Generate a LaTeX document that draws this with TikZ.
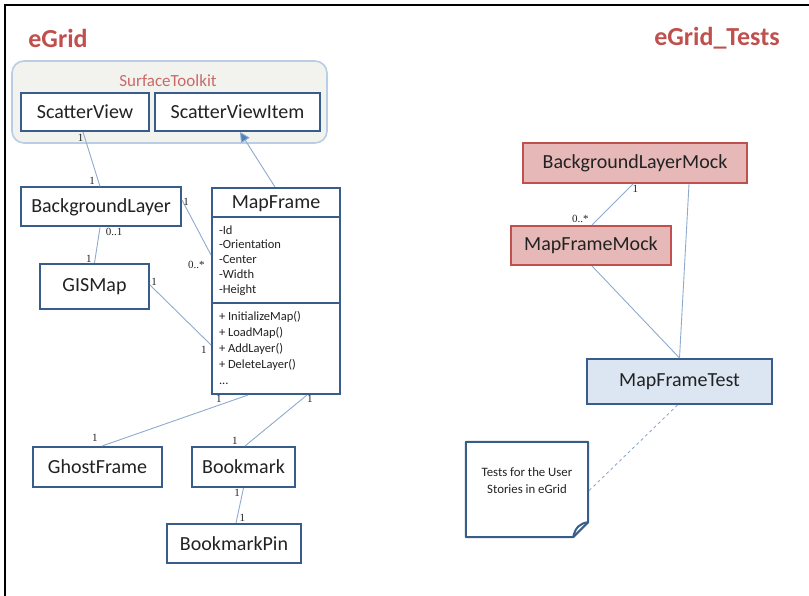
\documentclass[tikz,border=0pt]{standalone}
\usepackage{fontspec}
\setmainfont{Carlito}
\newfontfamily\multfont{Liberation Serif}
\usepackage{xcolor}
\usetikzlibrary{arrows.meta,positioning,calc,shapes.multipart}
\definecolor{ink}{HTML}{222222}
\definecolor{boxblue}{HTML}{385D8A}
\definecolor{linkblue}{HTML}{8FAACC}
\definecolor{tipblue}{HTML}{4F81BD}
\definecolor{titlered}{HTML}{C0504D}
\definecolor{pkgfill}{HTML}{F2F2EF}
\definecolor{pkgline}{HTML}{B9CDE5}
\definecolor{mockfill}{HTML}{E6B9B8}
\definecolor{testfill}{HTML}{DCE6F2}
\tikzset{
  every node/.style={text=ink},
  box/.style={draw=boxblue,line width=2pt,fill=white,inner sep=0pt,font=\fontsize{20}{24}\selectfont},
  cls/.style={box,minimum height=39pt},
  mock/.style={cls,fill=mockfill,draw=titlered},
  testcls/.style={cls,fill=testfill},
  pkg/.style={draw=pkgline,line width=1.6pt,fill=pkgfill,rounded corners=12pt},
  title/.style={font=\bfseries\fontsize{26}{30}\selectfont,text=titlered},
  assoc/.style={draw=linkblue,line width=0.9pt},
  realize/.style={assoc,-{Triangle[length=10pt,width=10pt,fill=tipblue]}},
  notelink/.style={assoc,dashed},
  mult/.style={font=\multfont\fontsize{11}{12}\selectfont,inner sep=1pt}
}

\begin{document}
\begin{tikzpicture}[x=1pt,y=-1pt]
  \useasboundingbox (0,0) rectangle (809,596);
  \draw[line width=2.5pt] (5,596) -- (5,5) -- (809,5);

  \node[title] (egrid) at (58,38) {eGrid};
  \node[title] (tests) at (717,38) {eGrid\_Tests};

  % SurfaceToolkit package
  \node[pkg,minimum width=315pt,minimum height=82pt] (toolkit) at (169.5,102) {};
  \node[font=\fontsize{17}{20}\selectfont,text=titlered!85] (toolkitlbl) at (168,81) {SurfaceToolkit};
  \node[cls,minimum width=128pt,minimum height=38pt] (sv) at (85,112) {ScatterView};
  \node[cls,minimum width=165pt,minimum height=38pt] (svi) at (237.5,112) {ScatterViewItem};

  % eGrid classes
  \node[cls,minimum width=160pt] (bgl) at (101,207) {BackgroundLayer};
  \node[cls,minimum width=109pt,minimum height=45pt] (gis) at (94.5,286.5) {GISMap};
  \node[cls,minimum width=129pt,minimum height=40pt] (gf) at (97.5,467) {GhostFrame};
  \node[cls,minimum width=103pt,minimum height=40pt] (bm) at (243.5,467) {Bookmark};
  \node[cls,minimum width=134pt] (bmp) at (234,543.5) {BookmarkPin};
  \node[box,rectangle split,rectangle split parts=3,rectangle split part align={center,left,left},
        align=left,inner xsep=7pt,inner ysep=4pt,minimum width=128pt,anchor=north,
        font=\fontsize{12.5}{14.7}\selectfont] (mf) at (276,187)
    {{\fontsize{20}{24}\selectfont\rule{0pt}{12pt}\raisebox{-4pt}{MapFrame}}
     \nodepart{two}\rule{0pt}{12pt}-Id\\-Orientation\\-Center\\-Width\\\rule[-5pt]{0pt}{0pt}-Height
     \nodepart{three}\rule{0pt}{12pt}+ InitializeMap()\\[1.3pt]+ LoadMap()\\[1.3pt]+ AddLayer()\\[1.3pt]+ DeleteLayer()\\[1.3pt]\rule[-5pt]{0pt}{0pt}...};

  % eGrid_Tests classes
  \node[mock,minimum width=224pt,minimum height=40pt] (blm) at (635,163) {BackgroundLayerMock};
  \node[mock,minimum width=160pt] (mfm) at (591,245.5) {MapFrameMock};
  \node[testcls,minimum width=185pt,minimum height=45pt] (mft) at (679.5,381.5) {MapFrameTest};
  \node[minimum width=122pt,minimum height=95pt,inner sep=0pt,align=center,
        font=\fontsize{12.8}{17}\selectfont] (note) at (527,489.5)
    {Tests for the User\\Stories in eGrid\\\mbox{}};
  \draw[boxblue,line width=2pt,line join=round]
    (note.north west) -- (note.north east) -- ([yshift=15]note.south east)
    -- ([xshift=-15]note.south east) -- (note.south west) -- cycle;
  \draw[boxblue,line width=2pt,line join=round]
    ([yshift=15]note.south east) .. controls ([xshift=-8,yshift=14]note.south east) and ([xshift=-13,yshift=10]note.south east) .. ([xshift=-15]note.south east);

  % associations
  \draw[assoc] ([xshift=-2]sv.south) -- node[mult,pos=0.1,left=0pt]{1} node[mult,pos=0.9,left=2pt]{1} ([xshift=-1]bgl.north);
  \draw[realize] ([xshift=-1]mf.north) -- ([xshift=2.5]svi.south);
  \draw[assoc] ([yshift=7]bgl.east) -- node[mult,pos=0,anchor=west,yshift=-2pt]{1} node[mult,pos=1,anchor=north east,xshift=-5pt,yshift=-5pt]{0..*} ([yshift=-68]mf.north west);
  \draw[assoc] ([xshift=-1]bgl.south) -- node[mult,pos=0.12,right=5pt]{0..1} node[mult,pos=0.88,left=2pt]{1} (gis.north);
  \draw[assoc] ([yshift=1.5]gis.east) -- node[mult,pos=0,anchor=west,yshift=3pt]{1} node[mult,pos=1,anchor=north east,xshift=-3pt]{1} ([yshift=-158]mf.north west);
  \draw[assoc] ([xshift=-28]mf.south) -- node[mult,pos=0.2,above=1pt]{1} node[mult,pos=1,above left=4pt]{1} ([xshift=4.5]gf.north);
  \draw[assoc] ([xshift=31]mf.south) -- node[mult,pos=0.07,right=3pt]{1} node[mult,pos=1,anchor=south east,xshift=-6pt]{1} ([xshift=1.5]bm.north);
  \draw[assoc] (bm.south) -- node[mult,pos=0.15,left=1pt]{1} node[mult,pos=0.85,right=1pt]{1} ([xshift=2]bmp.north);
  \draw[assoc] ([xshift=-2]blm.south) -- node[mult,pos=0.12,right=3pt]{1} node[mult,pos=0.85,left=8pt]{0..*} ([xshift=1]mfm.north);
  \draw[assoc] ([xshift=54]blm.south) -- (mft.north);
  \draw[assoc] ([xshift=1]mfm.south) -- (mft.north);
  \draw[notelink] ([xshift=-2]mft.south) -- ([yshift=-2]note.east);
\end{tikzpicture}
\end{document}
